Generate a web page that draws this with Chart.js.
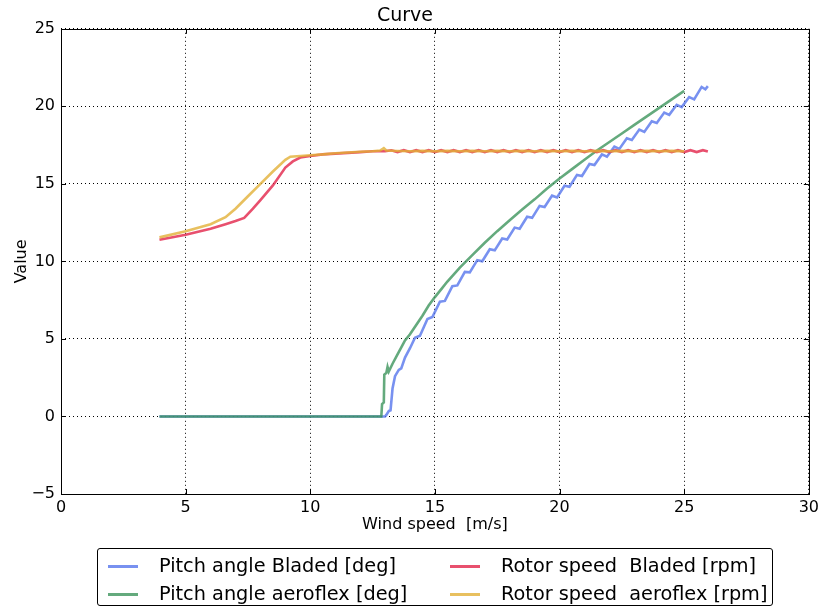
<!DOCTYPE html>
<html>
<head>
<meta charset="utf-8">
<script src="https://cdn.jsdelivr.net/npm/chart.js@4.4.1/dist/chart.umd.min.js"></script>
<style>
  body { margin: 0; background: #fff; }
  #wrap { position: relative; width: 823px; height: 612px; font-family: 'DejaVu Sans', sans-serif; }
  #legend {
    position: absolute; left: 97px; top: 548px; width: 676px; height: 58px;
    box-sizing: border-box; border: 1px solid #000; border-radius: 3px;
  }
  .item { position: absolute; height: 24px; font-size: 19.3px; line-height: 24px; white-space: pre; color: #000; }
  .item span.swatch { position: absolute; top: 11px; left: 0; width: 30px; height: 3px; }
  .item span.label { position: absolute; left: 51px; top: 0; }
</style>
</head>
<body>
<div id="wrap">
  <canvas id="chart" width="823" height="612"></canvas>
  <div id="legend"></div>
</div>
<script>
// wind speed [m/s], value
const pitchBladed = [
  [3.95, 0], [13.0, 0], [13.05, 0.1], [13.15, 0.35], [13.22, 0.4], [13.3, 1.8], [13.4, 2.6],
  [13.55, 3.0], [13.65, 3.1], [13.8, 3.8], [14.0, 4.4], [14.2, 5.08], [14.4, 5.21], [14.7, 6.28],
  [14.9, 6.41], [15.2, 7.4], [15.4, 7.45], [15.7, 8.4], [15.9, 8.45], [16.2, 9.32], [16.4, 9.29],
  [16.7, 10.08], [16.9, 10.01], [17.2, 10.78], [17.4, 10.71], [17.7, 11.48], [17.9, 11.41],
  [18.2, 12.18], [18.4, 12.11], [18.7, 12.88], [18.9, 12.81], [19.2, 13.58], [19.4, 13.51],
  [19.7, 14.24], [19.9, 14.13], [20.2, 14.88], [20.4, 14.81], [20.7, 15.58], [20.9, 15.51],
  [21.2, 16.28], [21.4, 16.21], [21.7, 16.9], [21.9, 16.75], [22.2, 17.4], [22.4, 17.25],
  [22.7, 17.94], [22.9, 17.83], [23.2, 18.5], [23.4, 18.35], [23.7, 19.04], [23.9, 18.93],
  [24.2, 19.6], [24.4, 19.45], [24.7, 20.1], [24.9, 19.95], [25.2, 20.6], [25.4, 20.45],
  [25.7, 21.25], [25.85, 21.1], [25.95, 21.3]
];
const pitchAeroflex = [
  [3.95, 0], [12.85, 0], [12.88, 0.8], [12.95, 0.9], [12.97, 2.7], [13.05, 2.8], [13.1, 3.2],
  [13.15, 2.9], [13.3, 3.4], [13.5, 4.0], [13.7, 4.6], [13.8, 4.9], [14.0, 5.3], [14.25, 5.9],
  [14.5, 6.5], [14.75, 7.15], [15.0, 7.7], [15.25, 8.2], [15.5, 8.7], [15.75, 9.15], [16.0, 9.6],
  [16.5, 10.4], [17.0, 11.2], [17.5, 11.95], [18.0, 12.65], [18.5, 13.35], [19.0, 14.0],
  [19.5, 14.7], [20.0, 15.35], [20.5, 15.95], [21.0, 16.55], [21.5, 17.15], [22.0, 17.7],
  [22.5, 18.25], [23.0, 18.8], [23.5, 19.35], [24.0, 19.9], [24.5, 20.45], [25.0, 21.0]
];
const rotorBladed = [
  [3.95, 11.4], [5.0, 11.72], [6.0, 12.1], [6.6, 12.4], [7.0, 12.6], [7.35, 12.8], [7.7, 13.4],
  [8.0, 13.95], [8.5, 14.9], [9.0, 16.05], [9.3, 16.45], [9.6, 16.7], [10.0, 16.8], [10.5, 16.9],
  [11.0, 16.95], [11.5, 17.0], [12.0, 17.05], [12.5, 17.1], [13.0, 17.1],
  [13.25, 17.17], [13.5, 17.05], [13.75, 17.17], [14.0, 17.05], [14.25, 17.17], [14.5, 17.05],
  [14.75, 17.17], [15.0, 17.05], [15.25, 17.17], [15.5, 17.05], [15.75, 17.17], [16.0, 17.05],
  [16.25, 17.17], [16.5, 17.05], [16.75, 17.17], [17.0, 17.05], [17.25, 17.17], [17.5, 17.05],
  [17.75, 17.17], [18.0, 17.05], [18.25, 17.17], [18.5, 17.05], [18.75, 17.17], [19.0, 17.05],
  [19.25, 17.17], [19.5, 17.05], [19.75, 17.17], [20.0, 17.05], [20.25, 17.17], [20.5, 17.05],
  [20.75, 17.17], [21.0, 17.05], [21.25, 17.17], [21.5, 17.05], [21.75, 17.17], [22.0, 17.05],
  [22.25, 17.17], [22.5, 17.05], [22.75, 17.17], [23.0, 17.05], [23.25, 17.17], [23.5, 17.05],
  [23.75, 17.17], [24.0, 17.05], [24.25, 17.17], [24.5, 17.05], [24.75, 17.17], [25.0, 17.05],
  [25.25, 17.17], [25.5, 17.05], [25.75, 17.17], [25.95, 17.08]
];
const rotorAeroflex = [
  [3.95, 11.55], [5.0, 11.95], [6.0, 12.4], [6.6, 12.85], [7.0, 13.4], [7.5, 14.2], [8.0, 15.0],
  [8.5, 15.8], [9.0, 16.55], [9.2, 16.75], [9.6, 16.8], [10.0, 16.85], [10.5, 16.9], [11.0, 16.97],
  [11.5, 17.02], [12.0, 17.07], [12.5, 17.1], [12.8, 17.15], [12.95, 17.3], [13.05, 17.15],
  [13.5, 17.12], [14.0, 17.1], [14.5, 17.13], [15.0, 17.1], [15.5, 17.13], [16.0, 17.1],
  [16.5, 17.13], [17.0, 17.1], [17.5, 17.13], [18.0, 17.1], [18.5, 17.13], [19.0, 17.1],
  [19.5, 17.13], [20.0, 17.1], [20.5, 17.13], [21.0, 17.1], [21.5, 17.13], [22.0, 17.1],
  [22.5, 17.13], [23.0, 17.1], [23.5, 17.13], [24.0, 17.1], [24.5, 17.13], [25.0, 17.1]
];

const seriesNames = ['Pitch angle Bladed [deg]', 'Pitch angle aeroflex [deg]', 'Rotor speed  Bladed [rpm]', 'Rotor speed  aeroflex [rpm]'];
const seriesData = [pitchBladed, pitchAeroflex, rotorBladed, rotorAeroflex];
const colors = ['rgba(86,117,236,0.8)', 'rgba(61,149,92,0.8)', 'rgba(226,36,74,0.8)', 'rgba(226,176,55,0.8)'];

const FONT = "'DejaVu Sans', sans-serif";

// matplotlib style frame with inward ticks
const frame = {
  id: 'frame',
  afterDatasetsDraw(chart) {
    const { ctx, chartArea: a, scales } = chart;
    ctx.save();
    ctx.strokeStyle = '#000';
    ctx.lineWidth = 1;
    ctx.beginPath();
    scales.x.ticks.forEach(t => {
      const px = Math.round(scales.x.getPixelForValue(t.value)) + 0.5;
      ctx.moveTo(px, a.bottom); ctx.lineTo(px, a.bottom - 5);
      ctx.moveTo(px, a.top); ctx.lineTo(px, a.top + 5);
    });
    scales.y.ticks.forEach(t => {
      const py = Math.round(scales.y.getPixelForValue(t.value)) + 0.5;
      ctx.moveTo(a.left, py); ctx.lineTo(a.left + 5, py);
      ctx.moveTo(a.right, py); ctx.lineTo(a.right - 5, py);
    });
    ctx.stroke();
    ctx.strokeRect(Math.round(a.left) + 0.5, Math.round(a.top) + 0.5,
      Math.round(a.right - a.left), Math.round(a.bottom - a.top));
    ctx.restore();
  }
};

const chart = new Chart(document.getElementById('chart'), {
  type: 'line',
  data: {
    datasets: seriesData.map((d, i) => ({
      label: seriesNames[i],
      data: d.map(p => ({ x: p[0], y: p[1] })),
      borderColor: colors[i],
      backgroundColor: colors[i],
      borderWidth: 2.6,
      pointRadius: 0,
      tension: 0,
      fill: false,
      order: 3 - i
    }))
  },
  options: {
    responsive: false,
    animation: false,
    layout: { padding: { left: 0, right: 13, top: 0, bottom: 78 } },
    plugins: {
      legend: { display: false },
      tooltip: { enabled: false },
      title: {
        display: true, text: 'Curve', color: '#000',
        font: { family: FONT, size: 19, weight: 'normal' },
        padding: { top: 5, bottom: 1 }
      }
    },
    scales: {
      x: {
        type: 'linear', min: 0, max: 30,
        afterFit: s => { s.height = 40; },
        ticks: { stepSize: 5, color: '#000', padding: 4, font: { family: FONT, size: 16 } },
        grid: { color: '#000', lineWidth: 1, drawTicks: false },
        border: { display: false, dash: [1, 3] },
        title: {
          display: true, text: 'Wind speed  [m/s]', color: '#000',
          font: { family: FONT, size: 16 }, padding: { top: 0, bottom: 0 }
        }
      },
      y: {
        type: 'linear', min: -5, max: 25,
        afterFit: s => { s.width = 61; },
        ticks: {
          stepSize: 5, color: '#000', padding: 6, font: { family: FONT, size: 16 },
          callback: v => String(v).replace('-', '\u2212')
        },
        grid: { color: '#000', lineWidth: 1, drawTicks: false },
        border: { display: false, dash: [1, 3] },
        title: {
          display: true, text: 'Value', color: '#000',
          font: { family: FONT, size: 16 }, padding: { top: 12, bottom: 0 }
        }
      }
    }
  },
  plugins: [frame]
});

// legend in two columns, filled column by column like the original
const legendBox = document.getElementById('legend');
const slots = [[10, 5], [10, 33], [352, 5], [352, 33]];
chart.data.datasets.forEach((ds, i) => {
  const el = document.createElement('div');
  el.className = 'item';
  el.style.left = slots[i][0] + 'px';
  el.style.top = slots[i][1] + 'px';
  el.innerHTML = '<span class="swatch"></span><span class="label"></span>';
  el.querySelector('.swatch').style.background = ds.borderColor;
  el.querySelector('.label').textContent = ds.label;
  legendBox.appendChild(el);
});
</script>
</body>
</html>
